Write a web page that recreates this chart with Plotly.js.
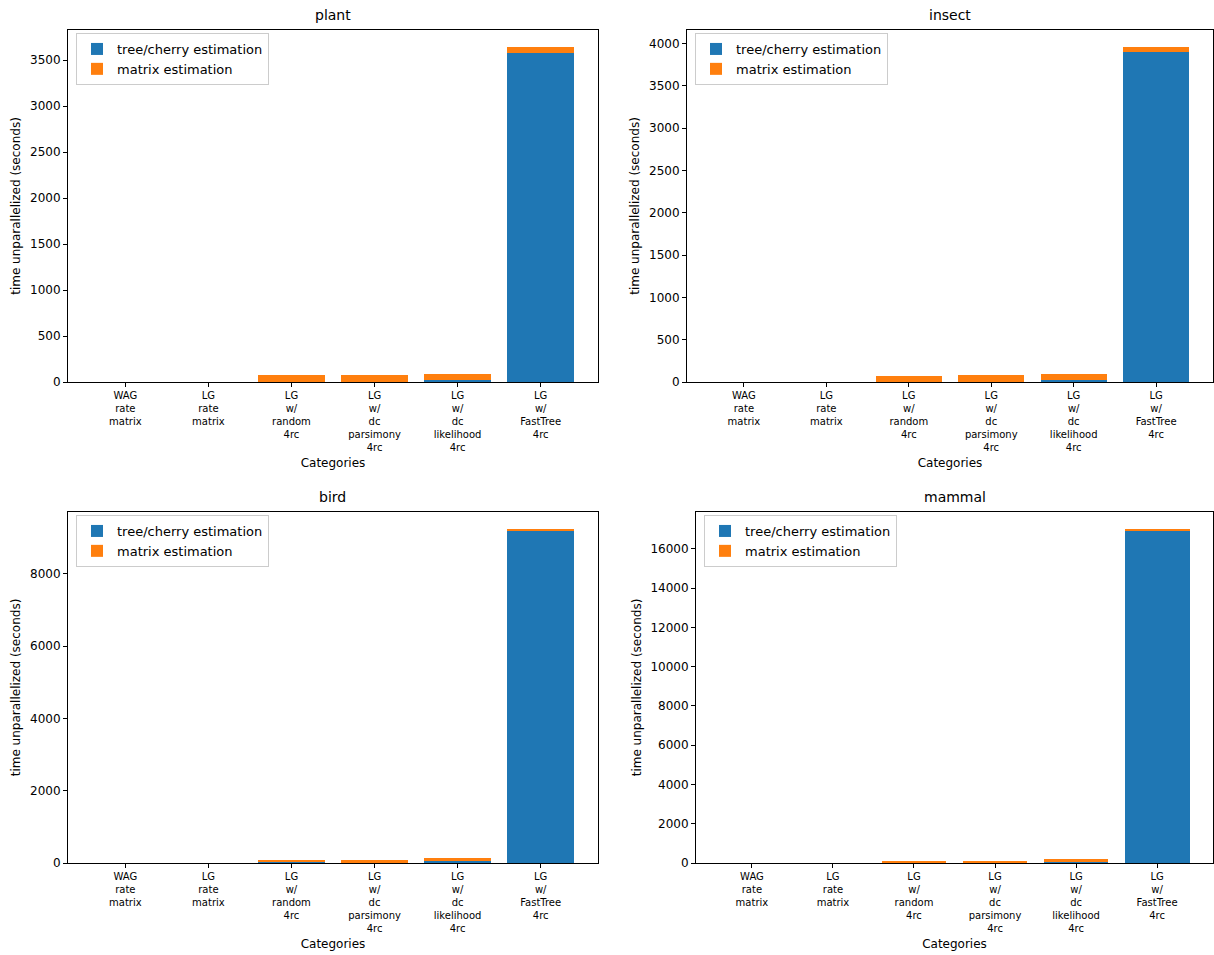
<!DOCTYPE html>
<html><head><meta charset="utf-8">
<script src="https://cdn.plot.ly/plotly-3.0.1.min.js"></script>
<style>body{margin:0;background:#fff}#c{width:1214px;height:955px}</style>
</head><body><div id="c"></div>
<script>
const categories = ["WAG<br>rate<br>matrix","LG<br>rate<br>matrix","LG<br>w/<br>random<br>4rc","LG<br>w/<br>dc<br>parsimony<br>4rc","LG<br>w/<br>dc<br>likelihood<br>4rc","LG<br>w/<br>FastTree<br>4rc"];
const panelTitles = ["plant","insect","bird","mammal"];
// tree/cherry estimation (seconds)
const treePlant  = [0, 0, 5, 4, 25, 3575];
const treeInsect = [0, 0, 5, 5, 27, 3895];
const treeBird   = [0, 0, 15, 12, 46, 9170];
const treeMammal = [0, 0, 30, 25, 100, 16930];
// matrix estimation (seconds)
const matPlant  = [0, 0, 75, 69, 62, 70];
const matInsect = [0, 0, 70, 74, 71, 66];
const matBird   = [0, 0, 68, 68, 92, 75];
const matMammal = [0, 0, 55, 55, 88, 95];

const tree = [treePlant, treeInsect, treeBird, treeMammal];
const mat = [matPlant, matInsect, matBird, matMammal];
const W = 1214, H = 955;
const boxes = [
  {l:68, r:598, t:30, b:382},
  {l:687, r:1213, t:30, b:382},
  {l:68, r:598, t:512, b:863},
  {l:696, r:1213, t:512, b:863}
];
const dtick = [500, 500, 2000, 2000];
const blue = '#1f77b4', orange = '#ff7f0e';
const font = 'DejaVu Sans, sans-serif';
const idx = categories.map((_, i) => i);
const data = [], annotations = [];
const layout = {
  width: W, height: H, margin: {l:0, r:0, t:0, b:0},
  paper_bgcolor: '#fff', plot_bgcolor: '#fff', barmode: 'stack', bargap: 0.2,
  font: {family: font, color: '#000', size: 12},
  annotations: annotations, showlegend: true
};
for (let p = 0; p < 4; p++) {
  const s = p === 0 ? '' : String(p + 1);
  const bx = boxes[p];
  const totals = tree[p].map((v, i) => v + mat[p][i]);
  const ymax = Math.max(...totals) * 1.05;
  const leg = p === 0 ? 'legend' : 'legend' + (p + 1);
  data.push({type:'bar', x: idx, y: tree[p], name:'tree/cherry estimation', marker:{color: blue}, width:0.8,
    xaxis:'x'+s, yaxis:'y'+s, legend: leg});
  data.push({type:'bar', x: idx, y: mat[p], name:'matrix estimation', marker:{color: orange}, width:0.8,
    xaxis:'x'+s, yaxis:'y'+s, legend: leg});
  layout['xaxis'+s] = {
    domain: [bx.l / W, bx.r / W], anchor: 'y'+s, range: [-0.69, 5.69],
    tickmode:'array', tickvals: idx, ticktext: categories, tickfont:{size:10, family:font},
    ticks:'outside', ticklen:4, tickcolor:'#000', showline:true, mirror:true, linecolor:'#000', linewidth:1,
    showgrid:false, zeroline:false,
    title:{text:'Categories', font:{size:12, family:font}, standoff: 6}
  };
  layout['yaxis'+s] = {
    domain: [(H - bx.b) / H, (H - bx.t) / H], anchor: 'x'+s, range: [0, ymax],
    dtick: dtick[p], tick0: 0, tickformat: 'd', tickfont:{size:12, family:font},
    ticks:'outside', ticklen:4, tickcolor:'#000', showline:true, mirror:true, linecolor:'#000', linewidth:1,
    showgrid:false, zeroline:false,
    title:{text:'time unparallelized (seconds)', font:{size:12, family:font}, standoff: 6}
  };
  layout[leg] = {
    x: (bx.l + 8) / W, y: (H - bx.t - 3) / H, xanchor:'left', yanchor:'top',
    bgcolor:'rgba(255,255,255,0.8)', bordercolor:'#ccc', borderwidth:1,
    font:{size:13, family:font}, traceorder:'normal', tracegroupgap:0
  };
  annotations.push({text: panelTitles[p], xref:'paper', yref:'paper',
    x: (bx.l + bx.r) / 2 / W, y: (H - bx.t + 5) / H, xanchor:'center', yanchor:'bottom',
    showarrow:false, font:{size:14, family:font}});
}
Plotly.newPlot('c', data, layout, {displayModeBar:false});
</script></body></html>
